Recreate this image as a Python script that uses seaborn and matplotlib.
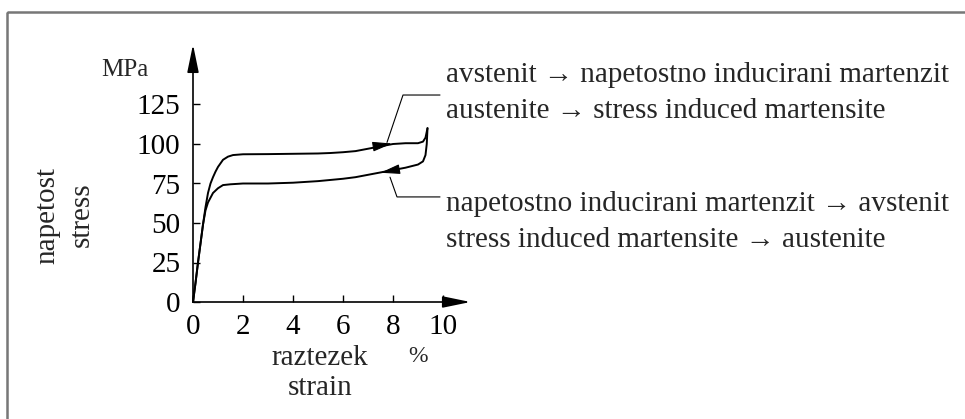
import pandas as pd
import matplotlib
matplotlib.use('Agg')
import matplotlib.pyplot as plt
from matplotlib.patches import Rectangle
import seaborn as sns

# nakladanje (loading): austenite -> stress induced martensite
loading_strain = [0, 0.1, 0.2, 0.3, 0.4, 0.5, 0.6, 0.7, 0.8, 0.9, 1.0, 1.2, 1.4, 1.6, 2.0, 3.0,
                  4.0, 5.0, 5.5, 6.0, 6.5, 7.0, 7.5, 8.0, 8.5, 9.0, 9.2, 9.3, 9.38]
loading_stress = [0, 12, 25, 37, 49, 60, 69, 75, 79, 82.5, 85.5, 90, 92, 93, 93.5, 93.6,
                  93.8, 94, 94.3, 94.8, 95.5, 97, 98.5, 100, 100.5, 100.5, 101.5, 104, 110]

# razbremenjevanje (unloading): martensite -> austenite
unloading_strain = [9.38, 9.35, 9.3, 9.2, 9.0, 8.5, 8.0, 7.5, 7.0, 6.5, 6.0, 5.0, 4.0, 3.0,
                    2.0, 1.5, 1.2, 1.0, 0.8, 0.6, 0.5, 0.4, 0.3, 0.2, 0.1, 0]
unloading_stress = [110, 100, 93, 89, 87, 85, 83.5, 82, 80.5, 79, 78, 76.5, 75.5, 75,
                    75, 74.5, 74, 72, 69, 63, 58, 49, 37, 25, 12, 0]

x_ticks = [0, 2, 4, 6, 8, 10]
y_ticks = [0, 25, 50, 75, 100, 125]

top_text = ['avstenit \u2192 napetostno inducirani martenzit',
            'austenite \u2192 stress induced martensite']
bottom_text = ['napetostno inducirani martenzit \u2192 avstenit',
               'stress induced martensite \u2192 austenite']

df = pd.concat([
    pd.DataFrame({'strain': loading_strain, 'stress': loading_stress, 'branch': 'loading'}),
    pd.DataFrame({'strain': unloading_strain, 'stress': unloading_stress, 'branch': 'unloading'}),
])

sns.set_style('white')
plt.rcParams['font.family'] = ['Liberation Serif', 'DejaVu Serif']

W, H = 965, 419
fig = plt.figure(figsize=(W / 100, H / 100), dpi=100)

# axes placed in pixels: x=0 at px 193, 25 px per unit; y=0 at px 302, 1.58 px per MPa
xmax, ymax = 11.1, 163
left, bottom = 193, 302
ax = fig.add_axes([left / W, (H - bottom) / H, xmax * 25 / W, ymax * 1.58 / H])
ax.set_xlim(0, xmax)
ax.set_ylim(0, ymax)

sns.lineplot(data=df, x='strain', y='stress', units='branch', estimator=None, sort=False,
             color='black', lw=1.4, ax=ax, clip_on=False)

for s in ax.spines.values():
    s.set_visible(False)
ax.set_xlabel('')
ax.set_ylabel('')

# osi s puščicami
axis_arrow = dict(arrowstyle='-|>,head_length=1.7,head_width=0.35', color='black',
                  lw=1.2, shrinkA=0, shrinkB=0)
ax.annotate('', xy=(0, 1), xytext=(0, 0), xycoords='axes fraction', arrowprops=axis_arrow)
ax.annotate('', xy=(1, 0), xytext=(0, 0), xycoords='axes fraction', arrowprops=axis_arrow)

ax.set_xticks(x_ticks)
ax.set_yticks(y_ticks)
ax.tick_params(axis='both', direction='in', length=5, width=1, labelsize=21, pad=9,
               bottom=True, left=True, colors='black')

# puščice na krivuljah
curve_arrow = dict(arrowstyle='-|>,head_length=1.2,head_width=0.3', color='black',
                   lw=0.8, shrinkA=0, shrinkB=0)
ax.annotate('', xy=(7.96, 100.3), xytext=(7.3, 98.6), arrowprops=curve_arrow)
ax.annotate('', xy=(7.5, 81.8), xytext=(8.1, 83.6), arrowprops=curve_arrow)

# kazalne črte
ax.plot([7.76, 8.4, 9.88], [101, 131, 131], color='black', lw=0.8, clip_on=False)
ax.plot([7.88, 8.16, 9.88], [79, 66.5, 66.5], color='black', lw=0.8, clip_on=False)

def px(x, y):
    return x / W, 1 - y / H

for i, t in enumerate(top_text):
    fig.text(*px(446, 75 + i * 36), t, fontsize=21, va='center', ha='left')
for i, t in enumerate(bottom_text):
    fig.text(*px(446, 204 + i * 36), t, fontsize=21, va='center', ha='left')

fig.text(*px(125, 70), 'MPa', fontsize=18, ha='center', va='center')
fig.text(*px(47, 215), 'napetost', fontsize=21, rotation=90, ha='center', va='center')
fig.text(*px(82, 215), 'stress', fontsize=21, rotation=90, ha='center', va='center')
fig.text(*px(320, 358), 'raztezek', fontsize=21, ha='center', va='center')
fig.text(*px(320, 388), 'strain', fontsize=21, ha='center', va='center')
fig.text(*px(418, 356), '%', fontsize=17, ha='center', va='center')

# siv okvir
fig.patches.append(Rectangle(px(7, 12), 2, -2, transform=fig.transFigure, fill=False,
                             edgecolor='#777777', lw=1.8))

fig.savefig('out.png', dpi=100)
